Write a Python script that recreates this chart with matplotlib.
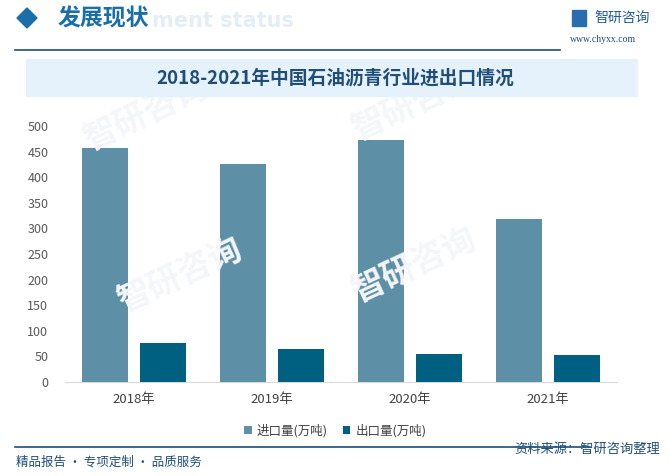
import matplotlib.pyplot as plt
import matplotlib.patches as mpatches
import numpy as np

plt.rcParams['font.family'] = ['Noto Sans CJK SC', 'DejaVu Sans']

# data (10k tonnes)
years = ['2018年', '2019年', '2020年', '2021年']
imports = [457, 426, 473, 318]
exports = [76, 64, 55, 53]
series_names = ['进口量(万吨)', '出口量(万吨)']

c_import = '#5d8fa6'
c_export = '#006082'

W, H = 669, 476


def px(x, y):
    # pixel position (from top-left) -> figure fraction
    return x / W, 1 - y / H


fig = plt.figure(figsize=(6.69, 4.76), dpi=100)
fig.patch.set_facecolor('white')

# faint watermarks
for (wx, wy) in [(0.22, 0.76), (0.62, 0.78), (0.27, 0.42), (0.62, 0.44)]:
    fig.text(wx, wy, '智研咨询', fontsize=24, color='#f4f6f9', rotation=25,
             ha='center', va='center', zorder=0, fontweight='bold')

# header
diamond = [px(17, 18), px(27, 8), px(37, 18), px(27, 28)]
fig.patches.append(mpatches.Polygon(diamond, closed=True, transform=fig.transFigure,
                                    color='#1a6fa8'))
fig.text(*px(152, 21), 'ment status', fontsize=15, color='#e4eef7',
         fontweight='bold', va='center', ha='left', family=['DejaVu Sans'])
fig.text(*px(58, 19), '发展现状', fontsize=16.5, color='#1a6fa8', va='center',
         ha='left', fontweight='bold')
fig.add_artist(plt.Line2D([15 / W, 560 / W], [1 - 50 / H, 1 - 50 / H],
                          color='#1f4e79', lw=1.2))
fig.patches.append(mpatches.Rectangle(px(572, 26), 14 / W, 16 / H,
                                      transform=fig.transFigure, color='#2a6cb0'))
fig.text(*px(594, 18), '智研咨询', fontsize=10, color='#1f5a9a', va='center', ha='left')
fig.text(*px(570, 39), 'www.chyxx.com', fontsize=7, color='#1f4e79', va='center',
         ha='left', family=['Liberation Serif'])

# title band
fig.patches.append(mpatches.Rectangle(px(26, 96), 611 / W, 37 / H,
                                      transform=fig.transFigure, color='#e6f2fb', zorder=1))
fig.text(*px(335, 78), '2018-2021年中国石油沥青行业进出口情况', fontsize=13.5,
         color='#1f4e79', ha='center', va='center', fontweight='bold', zorder=2)

# chart
ax = fig.add_axes([65 / W, 1 - 382 / H, 552 / W, 256 / H])
ax.set_facecolor('none')
x = np.arange(len(years))
w = 0.333
ax.bar(x - 0.21, imports, w, color=c_import, label=series_names[0], zorder=3)
ax.bar(x + 0.21, exports, w, color=c_export, label=series_names[1], zorder=3)
ax.set_xlim(-0.5, len(years) - 0.5)
ax.set_ylim(0, 500)
ax.set_yticks(range(0, 501, 50))
ax.set_xticks(x)
ax.set_xticklabels(years)
for s in ['top', 'right', 'left']:
    ax.spines[s].set_visible(False)
ax.spines['bottom'].set_color('#d9d9d9')
ax.tick_params(axis='y', length=0, labelsize=9, colors='#595959', pad=12)
ax.tick_params(axis='x', length=0, labelsize=9.5, colors='#404040', pad=8)
ax.legend(loc='upper center', bbox_to_anchor=(0.49, -0.12), ncol=2, frameon=False,
          fontsize=9, handlelength=0.6, handleheight=0.6, columnspacing=1.2,
          handletextpad=0.4, labelcolor='#404040')

# footer
fig.add_artist(plt.Line2D([15 / W, 590 / W], [1 - 447 / H, 1 - 447 / H],
                          color='#1f4e79', lw=1.2))
fig.text(*px(16, 462), '精品报告 · 专项定制 · 品质服务', fontsize=9, color='#1f4e79',
         va='center', ha='left')
fig.text(*px(660, 449), '资料来源：智研咨询整理', fontsize=9.5, color='#1f4e79',
         va='center', ha='right')

fig.savefig('out.png', dpi=100)
